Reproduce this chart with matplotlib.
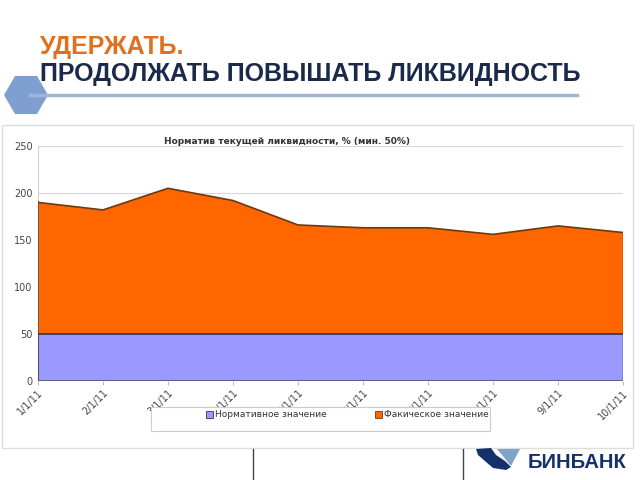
import matplotlib
matplotlib.use("Agg")
import matplotlib.pyplot as plt
from matplotlib.patches import Rectangle, Polygon
import numpy as np

dates = ["1/1/11", "2/1/11", "3/1/11", "4/1/11", "5/1/11", "6/1/11",
         "7/1/11", "8/1/11", "9/1/11", "10/1/11"]
normative = [50, 50, 50, 50, 50, 50, 50, 50, 50, 50]
actual = [190, 182, 205, 192, 166, 163, 163, 156, 165, 158]
yticks = [0, 50, 100, 150, 200, 250]

W, H = 640, 480
fig = plt.figure(figsize=(6.4, 4.8), dpi=100)
fig.patch.set_facecolor("white")

def fx(px):
    return px / W

def fy(py):
    return 1 - py / H

# header
fig.text(fx(40), fy(54), "УДЕРЖАТЬ.", color="#E0701E", fontsize=18,
         fontweight="bold", family="Liberation Sans", va="baseline", ha="left")
fig.text(fx(40), fy(81.5), "ПРОДОЛЖАТЬ ПОВЫШАТЬ ЛИКВИДНОСТЬ", color="#1B2A4A",
         fontsize=18, fontweight="bold", family="Liberation Sans", va="baseline", ha="left")
fig.add_artist(plt.Line2D([fx(30), fx(577)], [fy(95), fy(95)], color="#A3B5D5", lw=2.5,
                          transform=fig.transFigure))
hx, hy, r = 26, 95, 22
pts = [(fx(hx + r * np.cos(a)), fy(hy + r * np.sin(a))) for a in np.deg2rad([0, 60, 120, 180, 240, 300])]
fig.add_artist(Polygon(pts, closed=True, transform=fig.transFigure,
                       facecolor="#7F9FD0", edgecolor="none"))

# chart frame
fig.add_artist(Rectangle((fx(2), fy(448)), fx(631), (448 - 125) / H, transform=fig.transFigure,
                         facecolor="white", edgecolor="#DDDDDD", lw=1, zorder=-5))

ax = fig.add_axes([fx(38), fy(381), fx(623 - 38), (381 - 146) / H])
x = np.arange(len(dates))
ax.fill_between(x, 0, normative, facecolor="#9999FF", edgecolor="none", zorder=2)
ax.fill_between(x, normative, actual, facecolor="#FF6600", edgecolor="none", zorder=2)
ax.plot(x, normative, color="#333355", lw=1.2, zorder=3)
ax.plot(x, actual, color="#6B3A10", lw=1.2, zorder=3)
ax.plot([x[0], x[0]], [normative[0], actual[0]], color="#6B3A10", lw=1.2, zorder=3)
ax.plot([x[0], x[0]], [0, normative[0]], color="#333355", lw=1.2, zorder=3)
ax.plot([x[-1], x[-1]], [normative[-1], actual[-1]], color="#6B3A10", lw=1.0, zorder=3)
ax.plot([x[-1], x[-1]], [0, normative[-1]], color="#333355", lw=1.0, zorder=3)
ax.axhline(0, color="#555566", lw=1.2, zorder=3)
ax.set_xlim(x[0], x[-1])
ax.set_ylim(0, 250)
ax.set_yticks(yticks)
ax.set_yticklabels([str(v) for v in yticks], fontsize=7, color="#444444", family="DejaVu Sans")
ax.set_xticks(x)
ax.set_xticklabels(dates, rotation=45, ha="right", rotation_mode="anchor",
                   fontsize=7, color="#444444")
ax.tick_params(axis="y", length=0, pad=4)
ax.tick_params(axis="x", length=3, color="#BBBBBB", pad=2)
ax.grid(axis="y", color="#D8D8D8", lw=0.8, zorder=0)
for name, s in ax.spines.items():
    if name == "left":
        s.set_color("#D0D0D0")
        s.set_linewidth(0.8)
    else:
        s.set_visible(False)
ax.set_facecolor("white")

fig.text(fx(287), fy(141), "Норматив текущей ликвидности, % (мин. 50%)", fontsize=6.5,
         fontweight="bold", color="#333333", ha="center", va="center")

# legend
fig.add_artist(Rectangle((fx(151), fy(431)), fx(490 - 151), 24 / H, transform=fig.transFigure,
                         facecolor="white", edgecolor="#CCCCCC", lw=0.8))
fig.add_artist(Rectangle((fx(206), fy(418)), fx(7), 7 / H, transform=fig.transFigure,
                         facecolor="#9999FF", edgecolor="#333355", lw=0.6))
fig.text(fx(215), fy(414.5), "Нормативное значение", fontsize=6.5, color="#333333",
         va="center", ha="left")
fig.add_artist(Rectangle((fx(375), fy(418)), fx(7), 7 / H, transform=fig.transFigure,
                         facecolor="#FF6600", edgecolor="#6B3A10", lw=0.6))
fig.text(fx(384), fy(414.5), "Факическое значение", fontsize=6.5, color="#333333",
         va="center", ha="left")

# bottom lines
for px in (253, 463):
    fig.add_artist(plt.Line2D([fx(px), fx(px)], [fy(449), fy(480)], color="#444444", lw=1,
                              transform=fig.transFigure))

# logo
dark = [(476, 449), (491, 448), (496, 455), (505, 461), (511, 467), (506, 470),
        (493, 468), (478, 455)]
fig.add_artist(Polygon([(fx(a), fy(b)) for a, b in dark], closed=True, transform=fig.transFigure,
                       facecolor="#16306A", edgecolor="none"))
light = [(497, 449), (520, 449), (511, 466)]
fig.add_artist(Polygon([(fx(a), fy(b)) for a, b in light], closed=True, transform=fig.transFigure,
                       facecolor="#7FA3CC", edgecolor="none"))
fig.text(fx(528), fy(467.5), "БИНБАНК", fontsize=14.5, fontweight="bold", color="#16306A",
         family="Liberation Sans", ha="left", va="baseline")

fig.savefig("out.png", dpi=100)
